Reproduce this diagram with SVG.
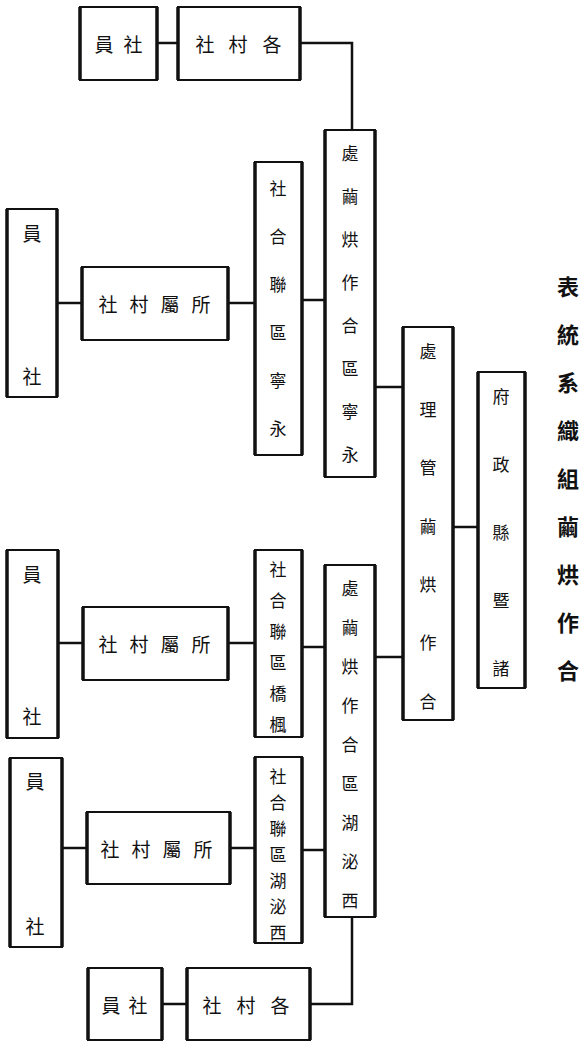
<svg xmlns="http://www.w3.org/2000/svg" width="585" height="1044" viewBox="0 0 585 1044">
<style>
.bx{fill:none;stroke:#111;stroke-width:2}
.v{fill:none;stroke:#111;stroke-width:3.5}
.ln{fill:none;stroke:#111;stroke-width:2.5}
text{font-family:"Noto Sans CJK TC","Noto Sans CJK SC",sans-serif;font-size:17px;fill:#111;text-anchor:middle;dominant-baseline:central}
.sm{font-size:19px}
.ttl{font-size:22px;font-weight:bold}
</style>
<rect width="585" height="1044" fill="#fff"/>
<g id="title"><text class="ttl"><tspan x="568" y="285">表</tspan><tspan x="568" y="333">統</tspan><tspan x="568" y="381">系</tspan><tspan x="568" y="429">織</tspan><tspan x="568" y="477">組</tspan><tspan x="568" y="525">繭</tspan><tspan x="568" y="573">烘</tspan><tspan x="568" y="621">作</tspan><tspan x="568" y="669">合</tspan></text></g>
<g id="connectors">
<path class="ln" d="M453 527H478"/>
<path class="ln" d="M375 387H403"/>
<path class="ln" d="M375 657H403"/>
<path class="ln" d="M157 43H178M300 43H352V130"/>
<path class="ln" d="M302 300H325"/>
<path class="ln" d="M228 303H255"/>
<path class="ln" d="M57 303H82"/>
<path class="ln" d="M302 647H325"/>
<path class="ln" d="M228 643H255"/>
<path class="ln" d="M58 643H83"/>
<path class="ln" d="M302 850H325"/>
<path class="ln" d="M230 848H255"/>
<path class="ln" d="M62 848H87"/>
<path class="ln" d="M162 1004H187M310 1004H352V917"/>
</g>
<g id="A"><rect class="bx" x="478" y="372" width="47" height="316"/><path class="v" d="M478 372V688M525 372V688"/><text><tspan x="501" y="395">府</tspan><tspan x="501" y="463">政</tspan><tspan x="501" y="531">縣</tspan><tspan x="501" y="599">暨</tspan><tspan x="501" y="667">諸</tspan></text></g>
<g id="B"><rect class="bx" x="403" y="327" width="50" height="393"/><path class="v" d="M403 327V720M453 327V720"/><text><tspan x="428" y="350">處</tspan><tspan x="428" y="408">理</tspan><tspan x="428" y="466">管</tspan><tspan x="428" y="525">繭</tspan><tspan x="428" y="583">烘</tspan><tspan x="428" y="641">作</tspan><tspan x="428" y="700">合</tspan></text></g>
<g id="C"><rect class="bx" x="325" y="130" width="50" height="347"/><path class="v" d="M325 130V477M375 130V477"/><text><tspan x="350" y="152">處</tspan><tspan x="350" y="195">繭</tspan><tspan x="350" y="238">烘</tspan><tspan x="350" y="281">作</tspan><tspan x="350" y="324">合</tspan><tspan x="350" y="367">區</tspan><tspan x="350" y="410">寧</tspan><tspan x="350" y="453">永</tspan></text></g>
<g id="D"><rect class="bx" x="325" y="565" width="50" height="352"/><path class="v" d="M325 565V917M375 565V917"/><text><tspan x="350" y="587">處</tspan><tspan x="350" y="626">繭</tspan><tspan x="350" y="665">烘</tspan><tspan x="350" y="704">作</tspan><tspan x="350" y="743">合</tspan><tspan x="350" y="782">區</tspan><tspan x="350" y="821">湖</tspan><tspan x="350" y="860">泌</tspan><tspan x="350" y="899">西</tspan></text></g>
<g id="N1"><rect class="bx" x="178" y="7" width="122" height="73"/><path class="v" d="M178 7V80M300 7V80"/><text class="sm"><tspan x="205" y="43">社</tspan><tspan x="238" y="43">村</tspan><tspan x="272" y="43">各</tspan></text></g>
<g id="O1"><rect class="bx" x="80" y="7" width="77" height="73"/><path class="v" d="M80 7V80M157 7V80"/><text class="sm"><tspan x="104" y="43">員</tspan><tspan x="133" y="43">社</tspan></text></g>
<g id="E"><rect class="bx" x="255" y="162" width="47" height="293"/><path class="v" d="M255 162V455M302 162V455"/><text><tspan x="278" y="187">社</tspan><tspan x="278" y="235">合</tspan><tspan x="278" y="283">聯</tspan><tspan x="278" y="331">區</tspan><tspan x="278" y="379">寧</tspan><tspan x="278" y="427">永</tspan></text></g>
<g id="F"><rect class="bx" x="82" y="267" width="146" height="73"/><path class="v" d="M82 267V340M228 267V340"/><text class="sm"><tspan x="108" y="303">社</tspan><tspan x="139" y="303">村</tspan><tspan x="170" y="303">屬</tspan><tspan x="201" y="303">所</tspan></text></g>
<g id="G"><rect class="bx" x="7" y="209" width="50" height="188"/><path class="v" d="M7 209V397M57 209V397"/><text class="sm"><tspan x="32" y="232">員</tspan><tspan x="32" y="375">社</tspan></text></g>
<g id="H"><rect class="bx" x="255" y="550" width="47" height="187"/><path class="v" d="M255 550V737M302 550V737"/><text><tspan x="278" y="568">社</tspan><tspan x="278" y="599">合</tspan><tspan x="278" y="630">聯</tspan><tspan x="278" y="661">區</tspan><tspan x="278" y="692">橋</tspan><tspan x="278" y="723">楓</tspan></text></g>
<g id="J"><rect class="bx" x="83" y="607" width="145" height="73"/><path class="v" d="M83 607V680M228 607V680"/><text class="sm"><tspan x="108" y="643">社</tspan><tspan x="139" y="643">村</tspan><tspan x="170" y="643">屬</tspan><tspan x="201" y="643">所</tspan></text></g>
<g id="K"><rect class="bx" x="7" y="550" width="51" height="188"/><path class="v" d="M7 550V738M58 550V738"/><text class="sm"><tspan x="32" y="573">員</tspan><tspan x="32" y="715">社</tspan></text></g>
<g id="I"><rect class="bx" x="255" y="757" width="47" height="186"/><path class="v" d="M255 757V943M302 757V943"/><text><tspan x="278" y="775">社</tspan><tspan x="278" y="801">合</tspan><tspan x="278" y="827">聯</tspan><tspan x="278" y="853">區</tspan><tspan x="278" y="879">湖</tspan><tspan x="278" y="905">泌</tspan><tspan x="278" y="931">西</tspan></text></g>
<g id="L"><rect class="bx" x="87" y="812" width="143" height="72"/><path class="v" d="M87 812V884M230 812V884"/><text class="sm"><tspan x="110" y="848">社</tspan><tspan x="141" y="848">村</tspan><tspan x="172" y="848">屬</tspan><tspan x="203" y="848">所</tspan></text></g>
<g id="M"><rect class="bx" x="10" y="758" width="52" height="189"/><path class="v" d="M10 758V947M62 758V947"/><text class="sm"><tspan x="35" y="780">員</tspan><tspan x="35" y="925">社</tspan></text></g>
<g id="O2"><rect class="bx" x="88" y="968" width="74" height="72"/><path class="v" d="M88 968V1040M162 968V1040"/><text class="sm"><tspan x="111" y="1004">員</tspan><tspan x="138" y="1004">社</tspan></text></g>
<g id="N2"><rect class="bx" x="187" y="968" width="123" height="72"/><path class="v" d="M187 968V1040M310 968V1040"/><text class="sm"><tspan x="212" y="1004">社</tspan><tspan x="246" y="1004">村</tspan><tspan x="280" y="1004">各</tspan></text></g>
</svg>
